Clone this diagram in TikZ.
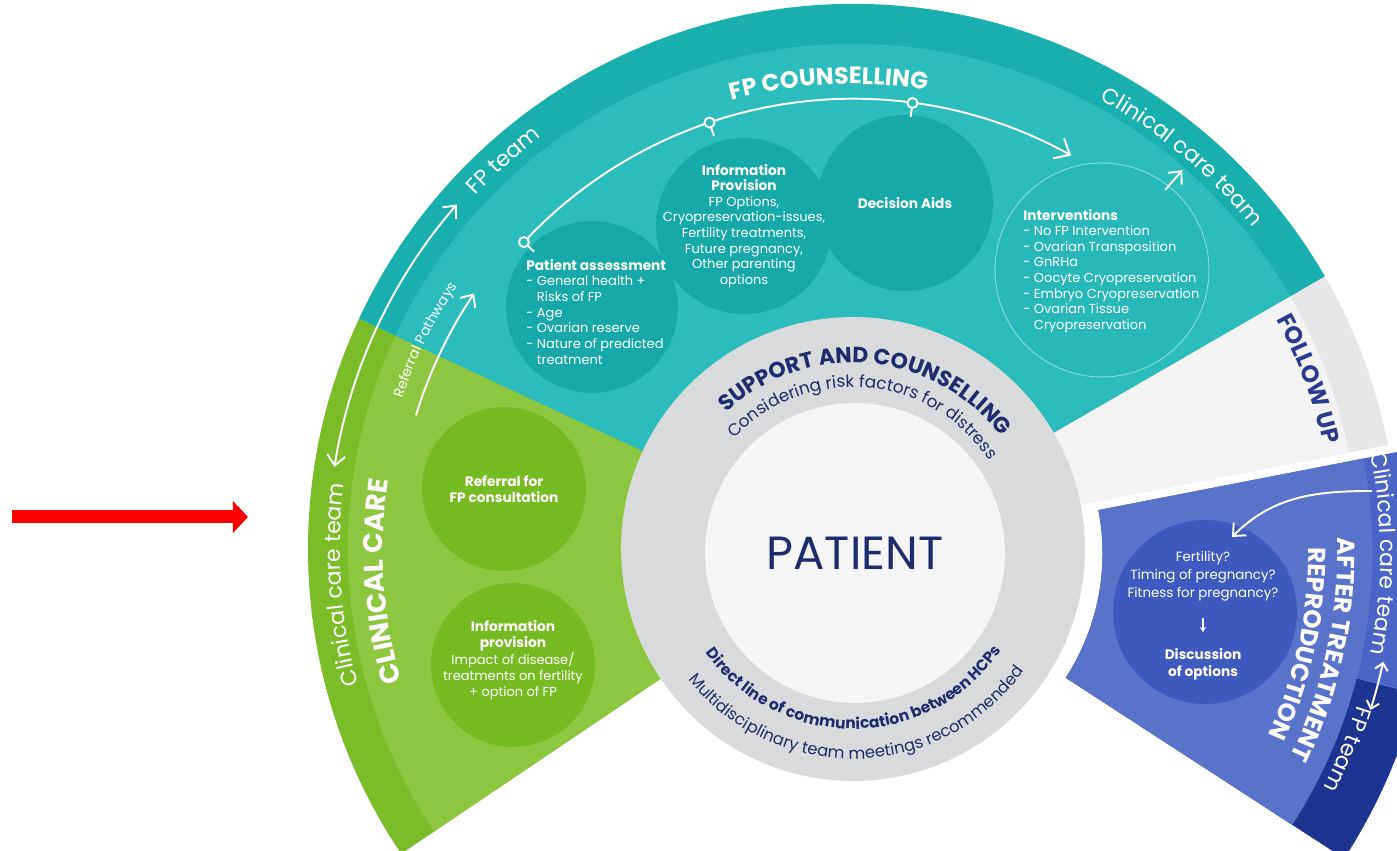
\documentclass[tikz,border=0pt]{standalone}
\usepackage{fontspec}
\setmainfont{Poppins}
\usepackage{tikz}
\usetikzlibrary{arrows.meta, positioning, decorations.text}

\definecolor{tealin}{HTML}{2DBCBC}
\definecolor{tealband}{HTML}{19AFAF}
\definecolor{tealbub}{HTML}{17A8A8}
\definecolor{greenin}{HTML}{8DC73F}
\definecolor{greenband}{HTML}{7BBD29}
\definecolor{greenbub}{HTML}{77BB22}
\definecolor{bluein}{HTML}{5873C9}
\definecolor{blueband}{HTML}{4A65C6}
\definecolor{bluebub}{HTML}{3F5ABF}
\definecolor{navyband}{HTML}{1D3590}
\definecolor{followin}{HTML}{F3F3F4}
\definecolor{followband}{HTML}{E6E6E8}
\definecolor{ringgray}{HTML}{D9DADC}
\definecolor{coregray}{HTML}{F5F5F6}
\definecolor{inkblue}{HTML}{1E2C6E}
\definecolor{followink}{HTML}{2A3A8C}

% filled ring segment: colour, from, to, inner radius, outer radius
\newcommand{\wedgeband}[5]{%
	\fill[#1] (#2:#4) arc[start angle=#2, end angle=#3, radius=#4]
		-- (#3:#5) arc[start angle=#3, end angle=#2, radius=#5] -- cycle;}
\newcommand{\fsz}[2]{\fontsize{#1}{#2}\selectfont}
\newcommand{\head}[1]{{\bfseries\fsz{7.8}{8.9}#1}}

\begin{document}
\begin{tikzpicture}[x=0.02cm, y=0.02cm,
		bubble/.style={circle, inner sep=0pt},
		note/.style={text=white, align=center, inner sep=0pt, font=\fsz{7.4}{8.9}},
		list/.style={note, align=left},
		curved/.style={decorate, decoration={text along path, text align=center}},
		barb/.style={white, line width=1.1pt, -{Straight Barb[length=0.2cm, width=0.36cm]}},
		twobarb/.style={barb, {Straight Barb[length=0.2cm, width=0.36cm]}-{Straight Barb[length=0.2cm, width=0.36cm]}},
		pointer/.style={red, line width=0.26cm, -{Triangle[length=0.3cm, width=0.62cm]}}
	]
	\useasboundingbox (-853,-302) rectangle (544,549);

	% sectors
	\wedgeband{greenband}{155}{214}{100}{545}
	\wedgeband{greenin}{155}{214}{100}{505}
	\wedgeband{tealband}{30}{155}{100}{545}
	\wedgeband{tealin}{30}{155}{100}{505}
	\wedgeband{followband}{11}{30}{228}{545}
	\wedgeband{followin}{11}{30}{228}{505}
	\begin{scope}[shift={(-12:22)}]
		\wedgeband{navyband}{-33}{-14.5}{228}{560}
		\wedgeband{blueband}{-14.5}{11}{228}{560}
		\wedgeband{bluein}{-33}{11}{228}{498}
	\end{scope}

	% bubbles
	\node (assess) [bubble, fill=tealbub, minimum size=3.44cm] at (-261,242) {};
	\node (infoprov) [bubble, fill=tealbub, minimum size=3.52cm] at (-109,323) {};
	\node (aids) [bubble, fill=tealbub, minimum size=3.52cm] at (52,346) {};
	\node (interv) [bubble, fill=tealin!80!tealbub, draw=tealin!55!white, line width=0.5pt, minimum size=4.28cm] at (249,279) {};
	\node (referral) [bubble, fill=greenbub, minimum size=3.28cm] at (-349,60) {};
	\node (infofp) [bubble, fill=greenbub, minimum size=3.28cm] at (-340,-116) {};
	\node (fertility) [bubble, fill=bluebub, minimum size=3.68cm] at (352,-63) {};

	\node (assesslist) [list, anchor=north west] at (-327,290) {\head{Patient assessment}\\- General health +\\\phantom{- }Risks of FP\\- Age\\- Ovarian reserve\\- Nature of predicted\\\phantom{- }treatment};
	\node (infolist) [note] at (infoprov) {\head{Information}\\\head{Provision}\\FP Options,\\Cryopreservation-issues,\\Fertility treatments,\\Future pregnancy,\\Other parenting\\options};
	\node (aidslabel) [note] at (aids) {\head{Decision Aids}};
	\node (intervlist) [list, anchor=west] at (170,278) {\head{Interventions}\\- No FP Intervention\\- Ovarian Transposition\\- GnRHa\\- Oocyte Cryopreservation\\- Embryo Cryopreservation\\- Ovarian Tissue\\\phantom{- }Cryopreservation};
	\node (referrallabel) [note] at (referral) {\head{Referral for}\\\head{FP consultation}};
	\node (infofplist) [note] at (-340,-111) {\head{Information}\\\head{provision}\\Impact of disease/\\treatments on fertility\\+ option of FP};
	\node (fertq) [note, font=\fsz{7.6}{10.2}] at (350,-27) {Fertility?\\Timing of pregnancy?\\Fitness for pregnancy?};
	\node (discuss) [note, font=\bfseries\fsz{7.8}{9.2}, below=0.95cm of fertq] {Discussion\\of options};
	\draw[white, line width=0.7pt, -{Stealth[length=3pt, width=3.5pt]}, shorten <=0.33cm, shorten >=0.33cm] (fertq) -- (discuss);

	% pathway arrows
	\draw[barb, -{Straight Barb[length=0.26cm, width=0.46cm]}] (137:450) arc[start angle=137, end angle=61, radius=450];
	\foreach \a in {137, 108.6, 82.4} {
		\draw[white, line width=1.1pt] (\a:445) -- (\a:436);
		\filldraw[fill=tealin, draw=white, line width=1.1pt] (\a:450) circle[radius=5];
	}
	\draw[twobarb] (171:525) arc[start angle=171, end angle=139, radius=525];
	\draw[barb] (163:457) arc[start angle=163, end angle=146, radius=457];
	\coordinate (careout) at (49:476);
	\coordinate (carein) at (49:502);
	\draw[barb] (careout) -- (carein);
	\coordinate (ccstart) at (519,58);
	\coordinate (ccend) at (379,12);
	\draw[barb] (ccstart) to[out=180, in=45] (ccend);

	% lettering along the arcs
	\path[curved, decoration={text color=white, text={|\bfseries\fsz{13.5}{13.5}|FP COUNSELLING}}]
		(123:465) arc[start angle=123, end angle=63, radius=465];
	\path[curved, decoration={text color=white, text={|\fsz{12.5}{12.5}|FP team}}]
		(150:517) arc[start angle=150, end angle=114, radius=517];
	\path[curved, decoration={text color=white, text={|\fsz{12.5}{12.5}|Clinical care team}}]
		(80:513) arc[start angle=80, end angle=20, radius=513];
	\path[curved, decoration={text color=white, text={|\fsz{12.5}{12.5}|Clinical care team}}]
		(214:513) arc[start angle=214, end angle=154, radius=513];
	\path[curved, decoration={text color=white, text={|\fsz{8}{8}|Referral Pathways}}]
		(175:475) arc[start angle=175, end angle=133, radius=475];
	\path[curved, decoration={text color=white, text={|\bfseries\fsz{15.5}{15.5}|CLINICAL CARE}}]
		(216:470) arc[start angle=216, end angle=152, radius=470];
	\path[curved, decoration={text color=followink, text={|\bfseries\fsz{13.5}{13.5}|FOLLOW UP}}]
		(45:482) arc[start angle=45, end angle=-4, radius=482];
	\begin{scope}[shift={(-12:22)}]
		\path[curved, decoration={text color=white, text={|\fsz{12.5}{12.5}|Clinical care team}}]
			(30:506) arc[start angle=30, end angle=-30, radius=506];
		\path[curved, decoration={text color=white, text={|\fsz{12.5}{12.5}|FP team}}]
			(-5:506) arc[start angle=-5, end angle=-40, radius=506];
		\draw[twobarb, {Straight Barb[length=0.14cm, width=0.26cm]}-{Straight Barb[length=0.14cm, width=0.26cm]}] (-12:520) arc[start angle=-12, end angle=-17.5, radius=520];
		\path[curved, decoration={text color=white, text={|\bfseries\fsz{14}{14}|AFTER TREATMENT}}]
			(22:463) arc[start angle=22, end angle=-46, radius=463];
		\path[curved, decoration={text color=white, text={|\bfseries\fsz{14}{14}|REPRODUCTION}}]
			(22:434) arc[start angle=22, end angle=-46, radius=434];
	\end{scope}

	% patient core
	\node (ring) [circle, fill=ringgray, minimum size=9.28cm, inner sep=0pt] at (0,0) {};
	\node (patient) [circle, fill=coregray, minimum size=6cm, inner sep=0pt, text=inkblue, font=\fsz{26.5}{26.5}] at (2,-4) {PATIENT};
	\path[curved, decoration={text color=inkblue, text={|\bfseries\fsz{12.5}{12.5}|SUPPORT AND COUNSELLING}}]
		(150:186) arc[start angle=150, end angle=20, radius=186];
	\path[curved, decoration={text color=inkblue, text={|\fsz{9.6}{9.6}|Considering risk factors for distress}}]
		(150:162) arc[start angle=150, end angle=20, radius=162];
	\path[curved, decoration={text color=inkblue, text={|\bfseries\fsz{8.8}{8.8}|Direct line of communication between HCPs}}]
		(200:180) arc[start angle=200, end angle=341, radius=180];
	\path[curved, decoration={text color=inkblue, text={|\fsz{9.3}{9.3}|Multidisciplinary team meetings recommended}}]
		(200:210) arc[start angle=200, end angle=343, radius=210];

	% marker
	\coordinate (redtail) at (-841,32);
	\coordinate (redtip) at (-605,32);
	\draw[pointer] (redtail) -- (redtip);
\end{tikzpicture}
\end{document}
